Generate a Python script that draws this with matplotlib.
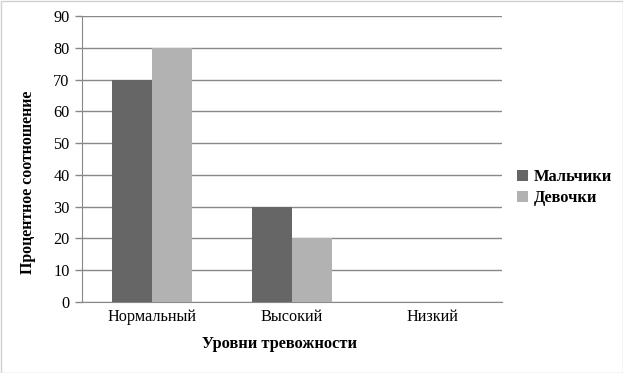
import matplotlib
matplotlib.use("Agg")
import matplotlib.pyplot as plt
import numpy as np

categories = ["Нормальный", "Высокий", "Низкий"]
boys = [70, 30, 0]
girls = [80, 20, 0]
series_names = ["Мальчики", "Девочки"]
yticks = [0, 10, 20, 30, 40, 50, 60, 70, 80, 90]

plt.rcParams['font.family'] = ['Liberation Serif', 'DejaVu Serif']

fig = plt.figure(figsize=(6.23, 3.73), dpi=100)
ax = fig.add_axes([82/623, 1-302/373, 420/623, 286/373])

x = np.arange(len(categories))
w = 40/140
ax.bar(x - w/2, boys, width=w, color="#666666", label=series_names[0], zorder=3)
ax.bar(x + w/2, girls, width=w, color="#b2b2b2", label=series_names[1], zorder=3)

ax.set_xlim(-0.5, 2.5)
ax.set_ylim(0, 90)
ax.set_yticks(yticks)
ax.set_xticks(x)
ax.set_xticklabels(categories, fontsize=11.7)
ax.tick_params(axis='y', labelsize=11.7, length=5, color="#888888", width=1, pad=4)
ax.tick_params(axis='x', length=0, pad=5)
ax.yaxis.grid(True, color="#888888", linewidth=1, zorder=0)
for s in ["top", "right"]:
    ax.spines[s].set_visible(False)
ax.spines["left"].set_color("#888888")
ax.spines["bottom"].set_color("#888888")
ax.set_axisbelow(True)

fig.text(280/623, 1-344/373, "Уровни тревожности", fontsize=11.8, fontweight="bold",
         ha="center", va="center")
fig.text(28/623, 1-182.5/373, "Процентное соотношение", fontsize=11.4, fontweight="bold",
         ha="center", va="center", rotation=90)

leg = ax.legend(loc="center left", bbox_to_anchor=(1.02, 0.4), frameon=False,
                prop={'weight': 'bold', 'size': 11.8}, handlelength=0.65, handleheight=0.65,
                handletextpad=0.4, labelspacing=0.3, borderaxespad=0)

fig.patches.append(plt.Rectangle((0.5/623, 0.5/373), 1-1/623, 1-1/373, transform=fig.transFigure,
                                 fill=False, edgecolor="#d0d0d0", linewidth=1))

fig.savefig("out.png", dpi=100)
